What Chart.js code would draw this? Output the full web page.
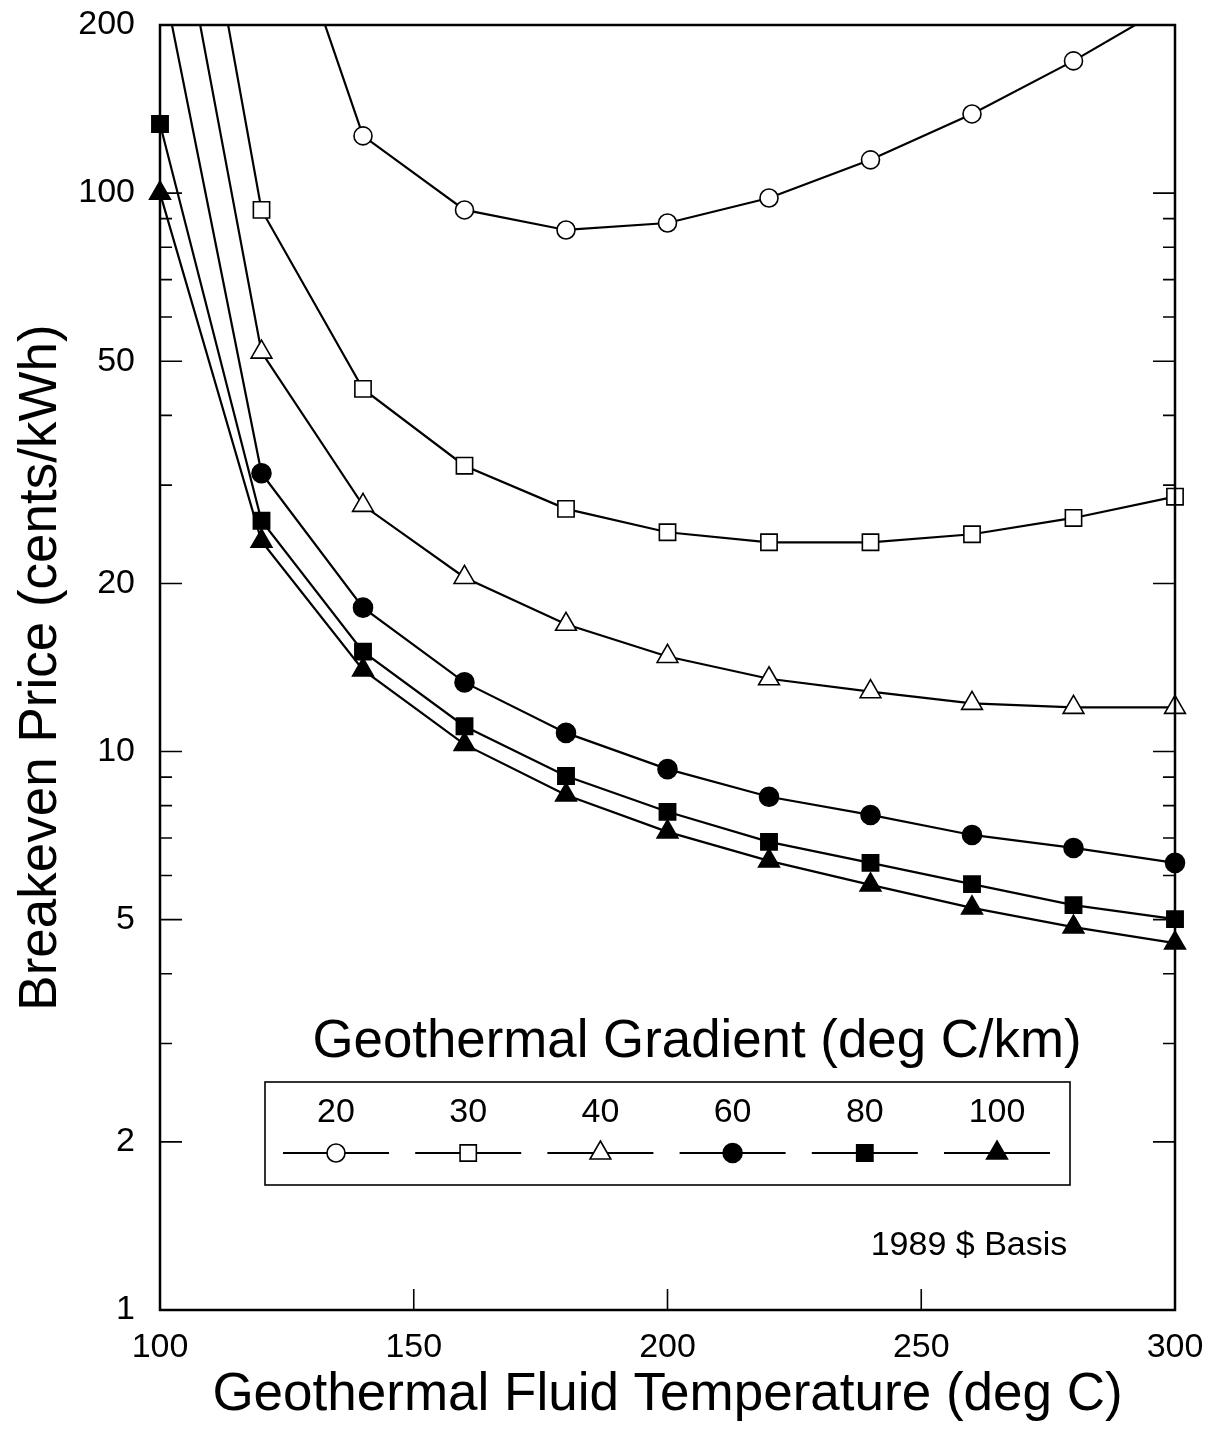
<!DOCTYPE html>
<html>
<head>
<meta charset="utf-8">
<script src="https://cdn.jsdelivr.net/npm/chart.js@4/dist/chart.umd.min.js"></script>
<style>
  html, body { margin: 0; padding: 0; background: #fff; }
  #wrap { width: 1211px; height: 1429px; }
</style>
</head>
<body>
<div id="wrap"><canvas id="geoChart" width="1211" height="1429"></canvas></div>
<script>
// fluid temperature (deg C)
const temps = [100, 120, 140, 160, 180, 200, 220, 240, 260, 280, 300];
// breakeven price (cents/kWh) for each geothermal gradient (deg C/km)
const g20 = [null, 430, 126.6, 93.3, 85.9, 88.4, 98, 114.7, 138.6, 172.5, 220];
const g30 = [950, 93.3, 44.6, 32.5, 27.2, 24.7, 23.7, 23.7, 24.5, 26.2, 28.6];
const g40 = [484, 51.9, 27.6, 20.5, 16.9, 14.8, 13.5, 12.8, 12.2, 12.0, 12.0];
const g60 = [256, 31.5, 18.1, 13.3, 10.8, 9.3, 8.3, 7.7, 7.09, 6.72, 6.32];
const g80 = [133, 25.9, 15.1, 11.1, 9.04, 7.8, 6.89, 6.32, 5.79, 5.31, 5.01];
const g100 = [100, 23.8, 14.0, 10.3, 8.36, 7.18, 6.37, 5.77, 5.25, 4.85, 4.54];

const gradLabels = ['20', '30', '40', '60', '80', '100'];
const yMajorTicks = [1, 2, 5, 10, 20, 50, 100, 200];
const yMinorTicks = [3, 4, 6, 7, 8, 9, 30, 40, 60, 70, 80, 90];
const xMajorTicks = [150, 200, 250];

const FONT = '"Liberation Sans", Arial, Helvetica, sans-serif';

const styles = [
  { pointStyle: 'circle', radius: 9, fill: '#fff' },
  { pointStyle: 'rect', radius: 11.5, fill: '#fff' },
  { pointStyle: 'triangle', radius: 12, fill: '#fff' },
  { pointStyle: 'circle', radius: 9.5, fill: '#000' },
  { pointStyle: 'rect', radius: 11.5, fill: '#000' },
  { pointStyle: 'triangle', radius: 12, fill: '#000' }
];

function makeSet(label, values, s) {
  return {
    label: label,
    data: temps.map((t, i) => ({ x: t, y: values[i] })),
    borderColor: '#000',
    borderWidth: 2.2,
    pointStyle: s.pointStyle,
    pointRadius: s.radius,
    pointHoverRadius: s.radius,
    pointBackgroundColor: s.fill,
    pointBorderColor: '#000',
    pointBorderWidth: 1.6,
    tension: 0,
    clip: { left: 20, right: 20, top: 0, bottom: 0 }
  };
}

// frame, inward tick marks, legend box and note
const decorPlugin = {
  id: 'decor',
  afterDraw(chart) {
    const ctx = chart.ctx;
    const a = chart.chartArea;
    const xs = chart.scales.x, ys = chart.scales.y;
    ctx.save();
    ctx.strokeStyle = '#000';
    ctx.lineWidth = 1.6;
    ctx.beginPath();
    yMajorTicks.forEach(v => {
      const y = ys.getPixelForValue(v);
      ctx.moveTo(a.left, y); ctx.lineTo(a.left + 22, y);
      ctx.moveTo(a.right, y); ctx.lineTo(a.right - 22, y);
    });
    yMinorTicks.forEach(v => {
      const y = ys.getPixelForValue(v);
      ctx.moveTo(a.left, y); ctx.lineTo(a.left + 12, y);
      ctx.moveTo(a.right, y); ctx.lineTo(a.right - 12, y);
    });
    xMajorTicks.forEach(v => {
      const x = xs.getPixelForValue(v);
      ctx.moveTo(x, a.bottom); ctx.lineTo(x, a.bottom - 21);
    });
    ctx.stroke();

    ctx.lineWidth = 2.5;
    ctx.strokeRect(a.left, a.top, a.right - a.left, a.bottom - a.top);

    // legend
    ctx.fillStyle = '#000';
    ctx.textAlign = 'center';
    ctx.textBaseline = 'middle';
    ctx.font = '54px ' + FONT;
    ctx.fillText('Geothermal Gradient (deg C/km)', 697, 1042, 769);

    ctx.lineWidth = 1.6;
    ctx.strokeRect(265, 1082, 805, 103);
    ctx.font = '34px ' + FONT;
    const cx0 = 336, step = 132.2;
    gradLabels.forEach((lab, i) => {
      const cx = cx0 + i * step;
      const s = styles[i];
      ctx.fillStyle = '#000';
      ctx.fillText(lab, cx, 1113);
      ctx.beginPath();
      ctx.lineWidth = 2;
      ctx.moveTo(cx - 53, 1153); ctx.lineTo(cx + 53, 1153);
      ctx.stroke();
      ctx.fillStyle = s.fill;
      ctx.lineWidth = 1.6;
      Chart.helpers.drawPoint(ctx, { pointStyle: s.pointStyle, radius: s.radius, rotation: 0, borderWidth: 1.6 }, cx, 1153);
    });

    ctx.fillStyle = '#000';
    ctx.font = '34px ' + FONT;
    ctx.fillText('1989 $ Basis', 969, 1246);
    ctx.restore();
  }
};

document.addEventListener('DOMContentLoaded', () => {
  const ctx = document.getElementById('geoChart').getContext('2d');
  new Chart(ctx, {
    type: 'line',
    data: {
      datasets: [
        makeSet('20', g20, styles[0]),
        makeSet('30', g30, styles[1]),
        makeSet('40', g40, styles[2]),
        makeSet('60', g60, styles[3]),
        makeSet('80', g80, styles[4]),
        makeSet('100', g100, styles[5])
      ]
    },
    options: {
      responsive: false,
      animation: false,
      events: [],
      layout: { padding: { left: 0, top: 25, right: 36, bottom: 0 } },
      plugins: { legend: { display: false }, tooltip: { enabled: false } },
      scales: {
        x: {
          type: 'linear',
          min: 100,
          max: 300,
          afterFit: s => {
            s.height = 119;
            s.paddingLeft = 0; s.paddingRight = 0; s.paddingTop = 0; s.paddingBottom = 0;
          },
          grid: { display: false, drawTicks: false },
          border: { display: false },
          ticks: { stepSize: 50, color: '#000', font: { family: FONT, size: 34 }, padding: 17, maxRotation: 0 },
          title: {
            display: true,
            text: 'Geothermal Fluid Temperature (deg C)',
            color: '#000',
            font: { family: FONT, size: 53 },
            padding: { top: 0, bottom: 2 }
          }
        },
        y: {
          type: 'logarithmic',
          min: 1,
          max: 200,
          afterFit: s => {
            s.width = 160;
            s.paddingLeft = 0; s.paddingRight = 0; s.paddingTop = 0; s.paddingBottom = 0;
          },
          afterBuildTicks: s => { s.ticks = yMajorTicks.map(v => ({ value: v })); },
          grid: { display: false, drawTicks: false },
          border: { display: false },
          ticks: {
            autoSkip: false,
            color: '#000',
            font: { family: FONT, size: 34 },
            padding: 25,
            callback: v => String(v)
          },
          title: {
            display: true,
            text: 'Breakeven Price (cents/kWh)',
            color: '#000',
            font: { family: FONT, size: 53 },
            padding: { top: 10, bottom: 0 }
          }
        }
      }
    },
    plugins: [decorPlugin]
  });
});
</script>
</body>
</html>
